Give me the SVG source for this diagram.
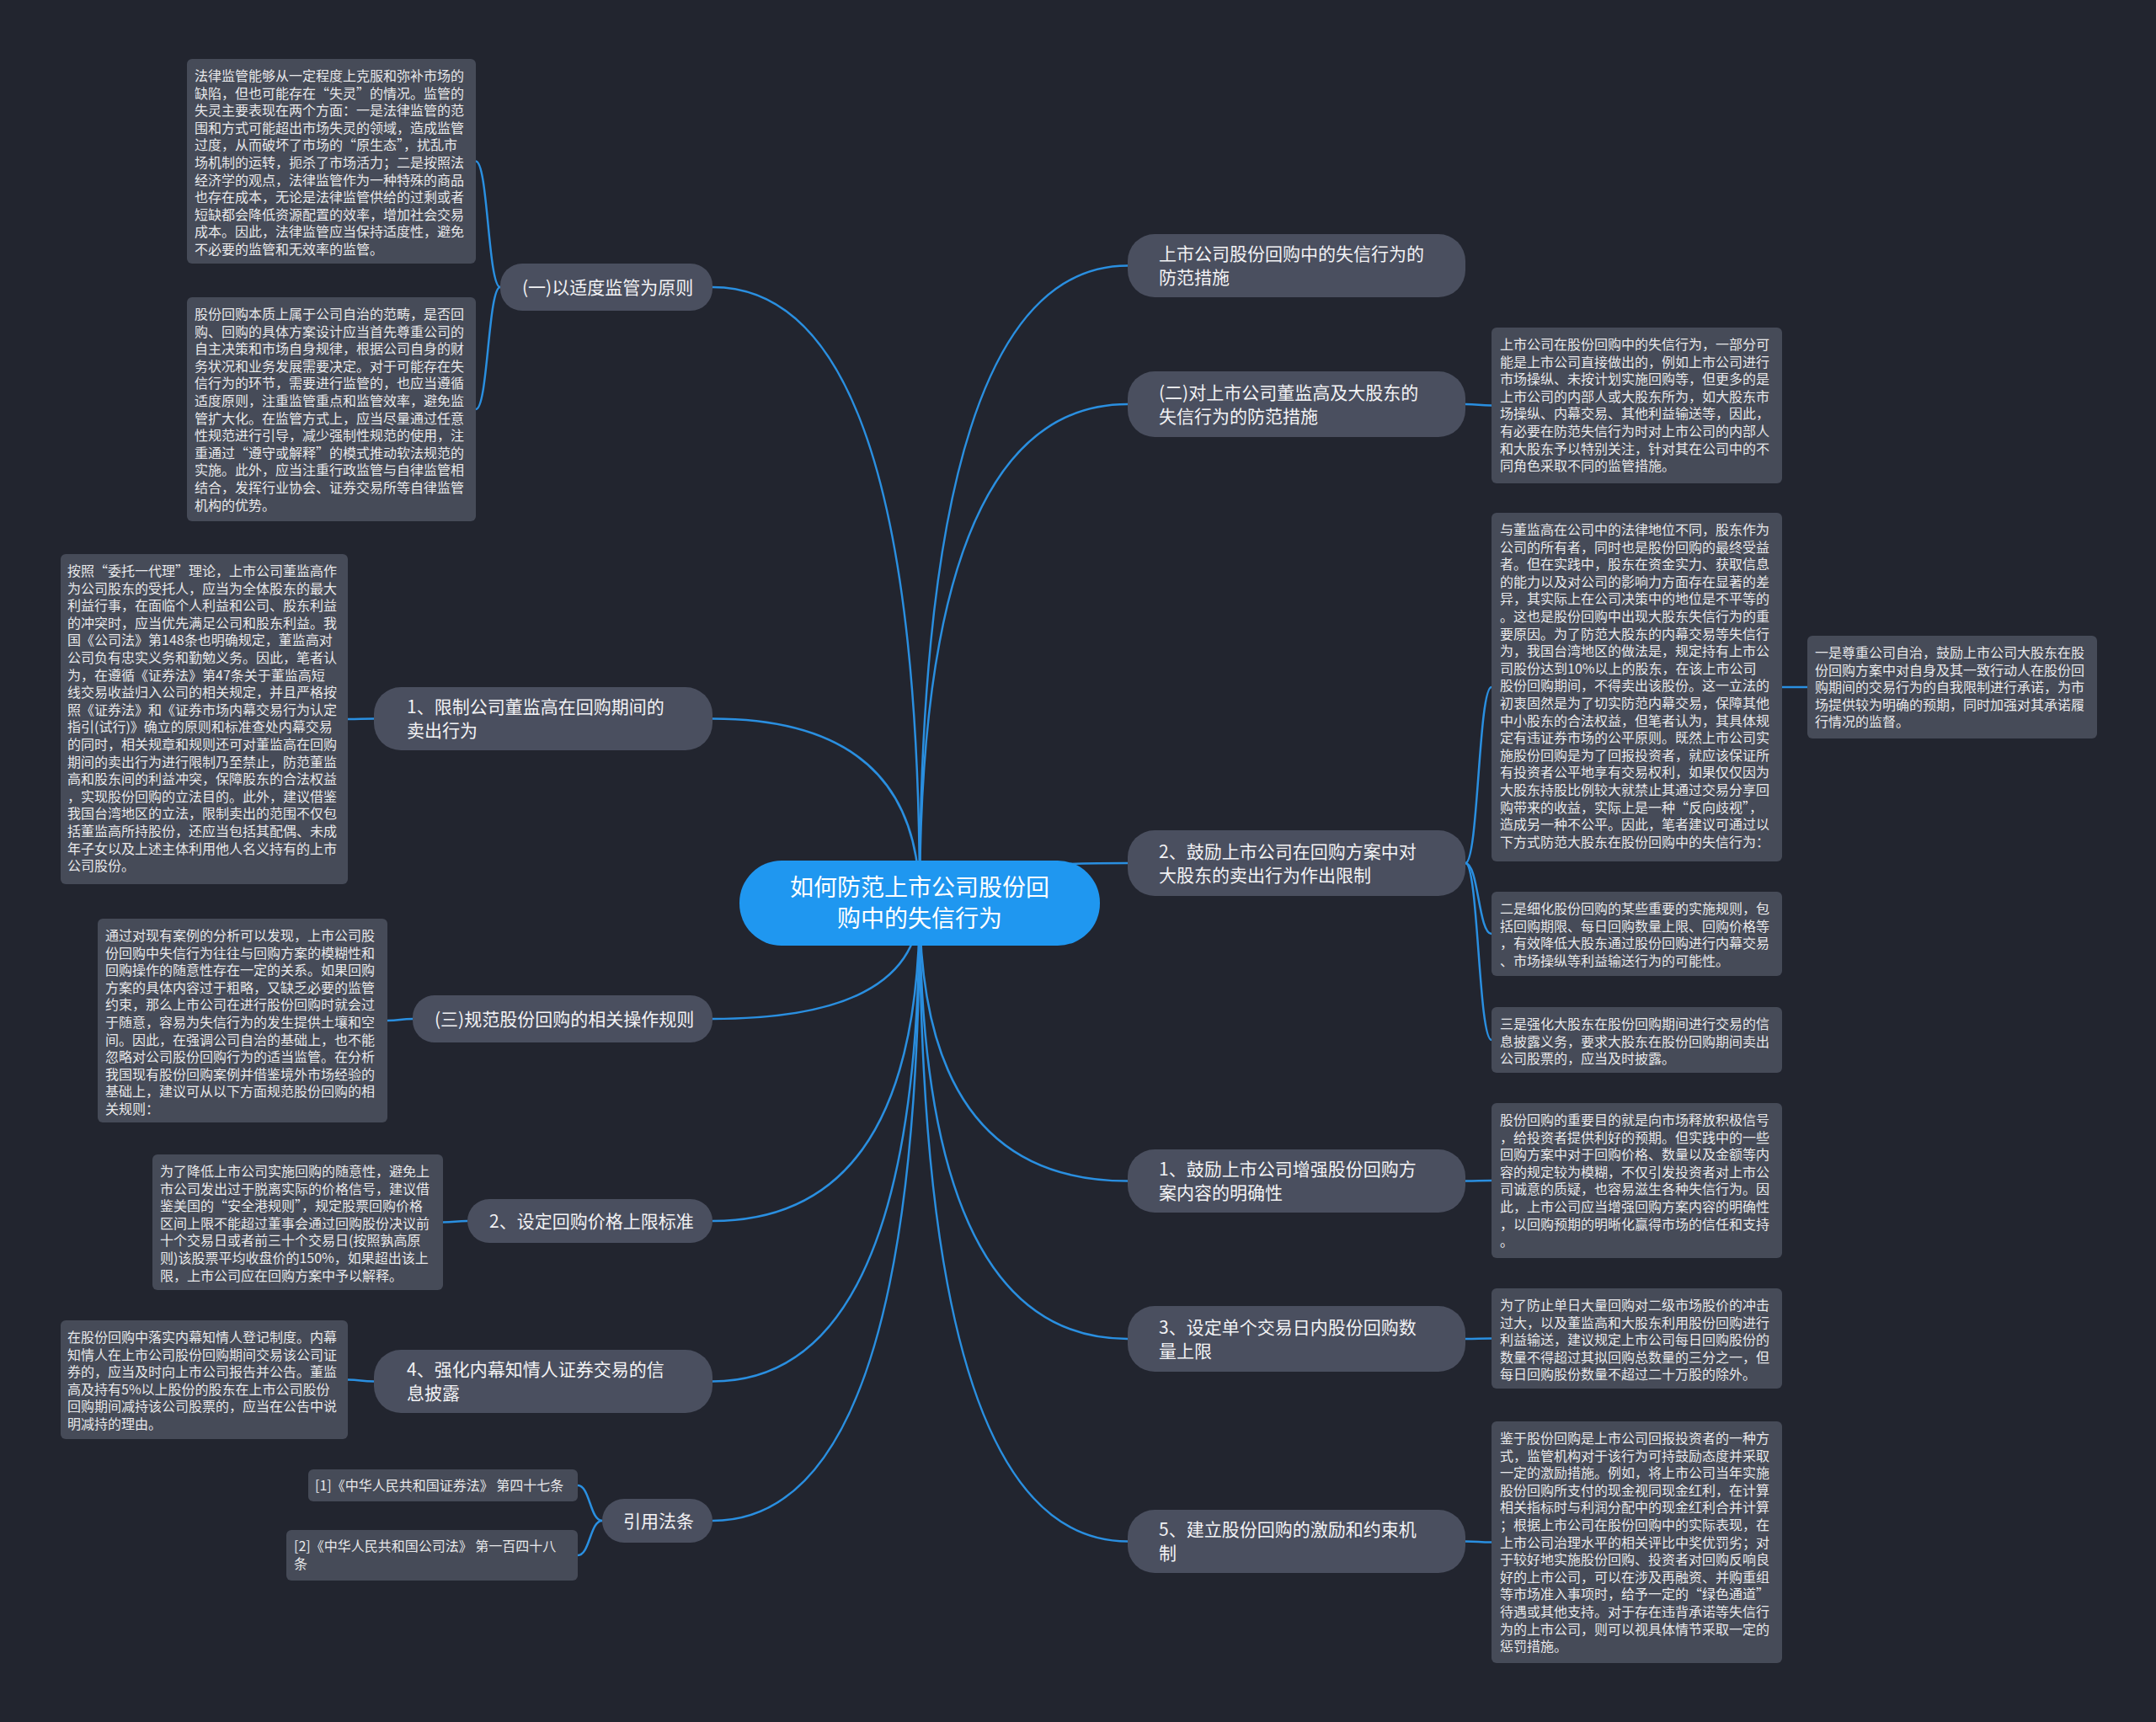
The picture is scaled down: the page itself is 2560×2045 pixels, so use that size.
<svg xmlns="http://www.w3.org/2000/svg" width="2560" height="2045" viewBox="0 0 2560 2045">
<style>
.bg{fill:#22252f}
.leaf{fill:#464b58}
.node{fill:#4a4f5f}
.center{fill:#1f97f0}
.lt{font-family:"Noto Sans CJK SC","Noto Sans",sans-serif;font-size:16px;fill:#e8e8ea}
.nt{font-family:"Noto Sans CJK SC","Noto Sans",sans-serif;font-size:21px;fill:#f2f2f4}
.ct{font-family:"Noto Sans CJK SC","Noto Sans",sans-serif;font-size:28px;fill:#ffffff;text-anchor:middle}
.conn{fill:none;stroke:#2a8fe0;stroke-width:2.5}
</style>
<rect class="bg" x="0" y="0" width="2560" height="2045"/>
<g id="connectors">
<path class="conn" d="M1092 1072 Q1092 315.5 1339 315.5"/>
<path class="conn" d="M1092 1072 Q1092 480 1339 480"/>
<path class="conn" d="M1092 1072 Q1092 1025 1339 1025"/>
<path class="conn" d="M1092 1072 Q1092 1402.5 1339 1402.5"/>
<path class="conn" d="M1092 1072 Q1092 1590 1339 1590"/>
<path class="conn" d="M1092 1072 Q1092 1830.5 1339 1830.5"/>
<path class="conn" d="M1092 1072 Q1092 341 846 341"/>
<path class="conn" d="M1092 1072 Q1092 853.5 846 853.5"/>
<path class="conn" d="M1092 1072 Q1092 1210 846 1210"/>
<path class="conn" d="M1092 1072 Q1092 1450 846 1450"/>
<path class="conn" d="M1092 1072 Q1092 1640.5 846 1640.5"/>
<path class="conn" d="M1092 1072 Q1092 1806 846 1806"/>
<path class="conn" d="M594 341 C579.5 341 579.5 191.5 565 191.5"/>
<path class="conn" d="M594 341 C579.5 341 579.5 486 565 486"/>
<path class="conn" d="M444 853.5 C428.5 853.5 428.5 854 413 854"/>
<path class="conn" d="M490 1210 C475 1210 475 1212 460 1212"/>
<path class="conn" d="M555 1450 C540.5 1450 540.5 1451.5 526 1451.5"/>
<path class="conn" d="M444 1640.5 C428 1640.5 428 1638.5 413 1638.5"/>
<path class="conn" d="M715 1806 C700.5 1806 700.5 1764 686 1764"/>
<path class="conn" d="M715 1806 C700.5 1806 700.5 1847 686 1847"/>
<path class="conn" d="M1740 480 C1755.5 480 1755.5 481.5 1771 481.5"/>
<path class="conn" d="M1740 1025 C1755.5 1025 1755.5 816 1771 816"/>
<path class="conn" d="M1740 1025 C1755.5 1025 1755.5 1109 1771 1109"/>
<path class="conn" d="M1740 1025 C1755.5 1025 1755.5 1235 1771 1235"/>
<path class="conn" d="M1740 1402.5 C1755.5 1402.5 1755.5 1402 1771 1402"/>
<path class="conn" d="M1740 1590 C1755.5 1590 1755.5 1589.5 1771 1589.5"/>
<path class="conn" d="M1740 1830.5 C1755.5 1830.5 1755.5 1831.5 1771 1831.5"/>
<path class="conn" d="M2116 816 L2146 816"/>
</g>
<g id="center">
<rect class="center" x="878" y="1022" width="428" height="101" rx="50"/>
<text class="ct"><tspan x="1092" y="1064">如何防范上市公司股份回</tspan><tspan x="1092" dy="37">购中的失信行为</tspan></text>
</g>
<g id="n-r1"><rect class="node" x="1339" y="278" width="401" height="75" rx="32"/>
<text class="nt"><tspan x="1376" y="309">上市公司股份回购中的失信行为的</tspan><tspan x="1376" dy="28">防范措施</tspan></text></g>
<g id="n-r2"><rect class="node" x="1339" y="441" width="401" height="78" rx="32"/>
<text class="nt"><tspan x="1376" y="473.5">(二)对上市公司董监高及大股东的</tspan><tspan x="1376" dy="28">失信行为的防范措施</tspan></text></g>
<g id="n-r3"><rect class="node" x="1339" y="986" width="401" height="78" rx="32"/>
<text class="nt"><tspan x="1376" y="1018.5">2、鼓励上市公司在回购方案中对</tspan><tspan x="1376" dy="28">大股东的卖出行为作出限制</tspan></text></g>
<g id="n-r4"><rect class="node" x="1339" y="1365" width="401" height="75" rx="32"/>
<text class="nt"><tspan x="1376" y="1396">1、鼓励上市公司增强股份回购方</tspan><tspan x="1376" dy="28">案内容的明确性</tspan></text></g>
<g id="n-r5"><rect class="node" x="1339" y="1551" width="401" height="78" rx="32"/>
<text class="nt"><tspan x="1376" y="1583.5">3、设定单个交易日内股份回购数</tspan><tspan x="1376" dy="28">量上限</tspan></text></g>
<g id="n-r6"><rect class="node" x="1339" y="1793" width="401" height="75" rx="32"/>
<text class="nt"><tspan x="1376" y="1824">5、建立股份回购的激励和约束机</tspan><tspan x="1376" dy="28">制</tspan></text></g>
<g id="n-l1"><rect class="node" x="594" y="313" width="252" height="56" rx="26"/>
<text class="nt" x="620" y="348.5">(一)以适度监管为原则</text></g>
<g id="n-l2"><rect class="node" x="444" y="816" width="402" height="75" rx="32"/>
<text class="nt"><tspan x="483" y="847">1、限制公司董监高在回购期间的</tspan><tspan x="483" dy="28">卖出行为</tspan></text></g>
<g id="n-l3"><rect class="node" x="490" y="1182" width="356" height="56" rx="26"/>
<text class="nt" x="516" y="1217.5">(三)规范股份回购的相关操作规则</text></g>
<g id="n-l4"><rect class="node" x="555" y="1424" width="291" height="52" rx="26"/>
<text class="nt" x="581" y="1457.5">2、设定回购价格上限标准</text></g>
<g id="n-l5"><rect class="node" x="444" y="1603" width="402" height="75" rx="32"/>
<text class="nt"><tspan x="483" y="1634">4、强化内幕知情人证券交易的信</tspan><tspan x="483" dy="28">息披露</tspan></text></g>
<g id="n-l6"><rect class="node" x="715" y="1780" width="131" height="52" rx="26"/>
<text class="nt" x="740" y="1813.5">引用法条</text></g>
<g id="leaf-l1"><rect class="leaf" x="222" y="70" width="343" height="243" rx="6"/>
<text class="lt"><tspan x="231" y="96">法律监管能够从一定程度上克服和弥补市场的</tspan><tspan x="231" dy="20.6">缺陷，但也可能存在“失灵”的情况。监管的</tspan><tspan x="231" dy="20.6">失灵主要表现在两个方面：一是法律监管的范</tspan><tspan x="231" dy="20.6">围和方式可能超出市场失灵的领域，造成监管</tspan><tspan x="231" dy="20.6">过度，从而破坏了市场的“原生态”，扰乱市</tspan><tspan x="231" dy="20.6">场机制的运转，扼杀了市场活力；二是按照法</tspan><tspan x="231" dy="20.6">经济学的观点，法律监管作为一种特殊的商品</tspan><tspan x="231" dy="20.6">也存在成本，无论是法律监管供给的过剩或者</tspan><tspan x="231" dy="20.6">短缺都会降低资源配置的效率，增加社会交易</tspan><tspan x="231" dy="20.6">成本。因此，法律监管应当保持适度性，避免</tspan><tspan x="231" dy="20.6">不必要的监管和无效率的监管。</tspan></text></g>
<g id="leaf-l2"><rect class="leaf" x="222" y="353" width="343" height="266" rx="6"/>
<text class="lt"><tspan x="231" y="379">股份回购本质上属于公司自治的范畴，是否回</tspan><tspan x="231" dy="20.6">购、回购的具体方案设计应当首先尊重公司的</tspan><tspan x="231" dy="20.6">自主决策和市场自身规律，根据公司自身的财</tspan><tspan x="231" dy="20.6">务状况和业务发展需要决定。对于可能存在失</tspan><tspan x="231" dy="20.6">信行为的环节，需要进行监管的，也应当遵循</tspan><tspan x="231" dy="20.6">适度原则，注重监管重点和监管效率，避免监</tspan><tspan x="231" dy="20.6">管扩大化。在监管方式上，应当尽量通过任意</tspan><tspan x="231" dy="20.6">性规范进行引导，减少强制性规范的使用，注</tspan><tspan x="231" dy="20.6">重通过“遵守或解释”的模式推动软法规范的</tspan><tspan x="231" dy="20.6">实施。此外，应当注重行政监管与自律监管相</tspan><tspan x="231" dy="20.6">结合，发挥行业协会、证券交易所等自律监管</tspan><tspan x="231" dy="20.6">机构的优势。</tspan></text></g>
<g id="leaf-l3"><rect class="leaf" x="72" y="658" width="341" height="392" rx="6"/>
<text class="lt"><tspan x="80" y="684">按照“委托一代理”理论，上市公司董监高作</tspan><tspan x="80" dy="20.6">为公司股东的受托人，应当为全体股东的最大</tspan><tspan x="80" dy="20.6">利益行事，在面临个人利益和公司、股东利益</tspan><tspan x="80" dy="20.6">的冲突时，应当优先满足公司和股东利益。我</tspan><tspan x="80" dy="20.6">国《公司法》第148条也明确规定，董监高对</tspan><tspan x="80" dy="20.6">公司负有忠实义务和勤勉义务。因此，笔者认</tspan><tspan x="80" dy="20.6">为，在遵循《证券法》第47条关于董监高短</tspan><tspan x="80" dy="20.6">线交易收益归入公司的相关规定，并且严格按</tspan><tspan x="80" dy="20.6">照《证券法》和《证券市场内幕交易行为认定</tspan><tspan x="80" dy="20.6">指引(试行)》确立的原则和标准查处内幕交易</tspan><tspan x="80" dy="20.6">的同时，相关规章和规则还可对董监高在回购</tspan><tspan x="80" dy="20.6">期间的卖出行为进行限制乃至禁止，防范董监</tspan><tspan x="80" dy="20.6">高和股东间的利益冲突，保障股东的合法权益</tspan><tspan x="80" dy="20.6">，实现股份回购的立法目的。此外，建议借鉴</tspan><tspan x="80" dy="20.6">我国台湾地区的立法，限制卖出的范围不仅包</tspan><tspan x="80" dy="20.6">括董监高所持股份，还应当包括其配偶、未成</tspan><tspan x="80" dy="20.6">年子女以及上述主体利用他人名义持有的上市</tspan><tspan x="80" dy="20.6">公司股份。</tspan></text></g>
<g id="leaf-l4"><rect class="leaf" x="116" y="1091" width="344" height="242" rx="6"/>
<text class="lt"><tspan x="125" y="1117">通过对现有案例的分析可以发现，上市公司股</tspan><tspan x="125" dy="20.6">份回购中失信行为往往与回购方案的模糊性和</tspan><tspan x="125" dy="20.6">回购操作的随意性存在一定的关系。如果回购</tspan><tspan x="125" dy="20.6">方案的具体内容过于粗略，又缺乏必要的监管</tspan><tspan x="125" dy="20.6">约束，那么上市公司在进行股份回购时就会过</tspan><tspan x="125" dy="20.6">于随意，容易为失信行为的发生提供土壤和空</tspan><tspan x="125" dy="20.6">间。因此，在强调公司自治的基础上，也不能</tspan><tspan x="125" dy="20.6">忽略对公司股份回购行为的适当监管。在分析</tspan><tspan x="125" dy="20.6">我国现有股份回购案例并借鉴境外市场经验的</tspan><tspan x="125" dy="20.6">基础上，建议可从以下方面规范股份回购的相</tspan><tspan x="125" dy="20.6">关规则：</tspan></text></g>
<g id="leaf-l5"><rect class="leaf" x="181" y="1371" width="345" height="161" rx="6"/>
<text class="lt"><tspan x="190" y="1397">为了降低上市公司实施回购的随意性，避免上</tspan><tspan x="190" dy="20.6">市公司发出过于脱离实际的价格信号，建议借</tspan><tspan x="190" dy="20.6">鉴美国的“安全港规则”，规定股票回购价格</tspan><tspan x="190" dy="20.6">区间上限不能超过董事会通过回购股份决议前</tspan><tspan x="190" dy="20.6">十个交易日或者前三十个交易日(按照孰高原</tspan><tspan x="190" dy="20.6">则)该股票平均收盘价的150%，如果超出该上</tspan><tspan x="190" dy="20.6">限，上市公司应在回购方案中予以解释。</tspan></text></g>
<g id="leaf-l6"><rect class="leaf" x="72" y="1568" width="341" height="141" rx="6"/>
<text class="lt"><tspan x="80" y="1594">在股份回购中落实内幕知情人登记制度。内幕</tspan><tspan x="80" dy="20.6">知情人在上市公司股份回购期间交易该公司证</tspan><tspan x="80" dy="20.6">券的，应当及时向上市公司报告并公告。董监</tspan><tspan x="80" dy="20.6">高及持有5%以上股份的股东在上市公司股份</tspan><tspan x="80" dy="20.6">回购期间减持该公司股票的，应当在公告中说</tspan><tspan x="80" dy="20.6">明减持的理由。</tspan></text></g>
<g id="leaf-ref1"><rect class="leaf" x="366" y="1745" width="320" height="38" rx="6"/>
<text class="lt" x="374" y="1770">[1]《中华人民共和国证券法》 第四十七条</text></g>
<g id="leaf-ref2"><rect class="leaf" x="340" y="1817" width="346" height="60" rx="6"/>
<text class="lt"><tspan x="349" y="1842">[2]《中华人民共和国公司法》 第一百四十八</tspan><tspan x="349" dy="20.6">条</tspan></text></g>
<g id="leaf-ra"><rect class="leaf" x="1771" y="389" width="345" height="185" rx="6"/>
<text class="lt"><tspan x="1781" y="415">上市公司在股份回购中的失信行为，一部分可</tspan><tspan x="1781" dy="20.6">能是上市公司直接做出的，例如上市公司进行</tspan><tspan x="1781" dy="20.6">市场操纵、未按计划实施回购等，但更多的是</tspan><tspan x="1781" dy="20.6">上市公司的内部人或大股东所为，如大股东市</tspan><tspan x="1781" dy="20.6">场操纵、内幕交易、其他利益输送等，因此，</tspan><tspan x="1781" dy="20.6">有必要在防范失信行为时对上市公司的内部人</tspan><tspan x="1781" dy="20.6">和大股东予以特别关注，针对其在公司中的不</tspan><tspan x="1781" dy="20.6">同角色采取不同的监管措施。</tspan></text></g>
<g id="leaf-rb"><rect class="leaf" x="1771" y="609" width="345" height="414" rx="6"/>
<text class="lt"><tspan x="1781" y="635">与董监高在公司中的法律地位不同，股东作为</tspan><tspan x="1781" dy="20.6">公司的所有者，同时也是股份回购的最终受益</tspan><tspan x="1781" dy="20.6">者。但在实践中，股东在资金实力、获取信息</tspan><tspan x="1781" dy="20.6">的能力以及对公司的影响力方面存在显著的差</tspan><tspan x="1781" dy="20.6">异，其实际上在公司决策中的地位是不平等的</tspan><tspan x="1781" dy="20.6">。这也是股份回购中出现大股东失信行为的重</tspan><tspan x="1781" dy="20.6">要原因。为了防范大股东的内幕交易等失信行</tspan><tspan x="1781" dy="20.6">为，我国台湾地区的做法是，规定持有上市公</tspan><tspan x="1781" dy="20.6">司股份达到10%以上的股东，在该上市公司</tspan><tspan x="1781" dy="20.6">股份回购期间，不得卖出该股份。这一立法的</tspan><tspan x="1781" dy="20.6">初衷固然是为了切实防范内幕交易，保障其他</tspan><tspan x="1781" dy="20.6">中小股东的合法权益，但笔者认为，其具体规</tspan><tspan x="1781" dy="20.6">定有违证券市场的公平原则。既然上市公司实</tspan><tspan x="1781" dy="20.6">施股份回购是为了回报投资者，就应该保证所</tspan><tspan x="1781" dy="20.6">有投资者公平地享有交易权利，如果仅仅因为</tspan><tspan x="1781" dy="20.6">大股东持股比例较大就禁止其通过交易分享回</tspan><tspan x="1781" dy="20.6">购带来的收益，实际上是一种“反向歧视”，</tspan><tspan x="1781" dy="20.6">造成另一种不公平。因此，笔者建议可通过以</tspan><tspan x="1781" dy="20.6">下方式防范大股东在股份回购中的失信行为：</tspan></text></g>
<g id="leaf-rc"><rect class="leaf" x="2146" y="755" width="344" height="122" rx="6"/>
<text class="lt"><tspan x="2155" y="781">一是尊重公司自治，鼓励上市公司大股东在股</tspan><tspan x="2155" dy="20.6">份回购方案中对自身及其一致行动人在股份回</tspan><tspan x="2155" dy="20.6">购期间的交易行为的自我限制进行承诺，为市</tspan><tspan x="2155" dy="20.6">场提供较为明确的预期，同时加强对其承诺履</tspan><tspan x="2155" dy="20.6">行情况的监督。</tspan></text></g>
<g id="leaf-rd"><rect class="leaf" x="1771" y="1059" width="345" height="100" rx="6"/>
<text class="lt"><tspan x="1781" y="1085">二是细化股份回购的某些重要的实施规则，包</tspan><tspan x="1781" dy="20.6">括回购期限、每日回购数量上限、回购价格等</tspan><tspan x="1781" dy="20.6">，有效降低大股东通过股份回购进行内幕交易</tspan><tspan x="1781" dy="20.6">、市场操纵等利益输送行为的可能性。</tspan></text></g>
<g id="leaf-re"><rect class="leaf" x="1771" y="1196" width="345" height="78" rx="6"/>
<text class="lt"><tspan x="1781" y="1222">三是强化大股东在股份回购期间进行交易的信</tspan><tspan x="1781" dy="20.6">息披露义务，要求大股东在股份回购期间卖出</tspan><tspan x="1781" dy="20.6">公司股票的，应当及时披露。</tspan></text></g>
<g id="leaf-rf"><rect class="leaf" x="1771" y="1310" width="345" height="184" rx="6"/>
<text class="lt"><tspan x="1781" y="1336">股份回购的重要目的就是向市场释放积极信号</tspan><tspan x="1781" dy="20.6">，给投资者提供利好的预期。但实践中的一些</tspan><tspan x="1781" dy="20.6">回购方案中对于回购价格、数量以及金额等内</tspan><tspan x="1781" dy="20.6">容的规定较为模糊，不仅引发投资者对上市公</tspan><tspan x="1781" dy="20.6">司诚意的质疑，也容易滋生各种失信行为。因</tspan><tspan x="1781" dy="20.6">此，上市公司应当增强回购方案内容的明确性</tspan><tspan x="1781" dy="20.6">，以回购预期的明晰化赢得市场的信任和支持</tspan><tspan x="1781" dy="20.6">。</tspan></text></g>
<g id="leaf-rg"><rect class="leaf" x="1771" y="1530" width="345" height="119" rx="6"/>
<text class="lt"><tspan x="1781" y="1556">为了防止单日大量回购对二级市场股价的冲击</tspan><tspan x="1781" dy="20.6">过大，以及董监高和大股东利用股份回购进行</tspan><tspan x="1781" dy="20.6">利益输送，建议规定上市公司每日回购股份的</tspan><tspan x="1781" dy="20.6">数量不得超过其拟回购总数量的三分之一，但</tspan><tspan x="1781" dy="20.6">每日回购股份数量不超过二十万股的除外。</tspan></text></g>
<g id="leaf-rh"><rect class="leaf" x="1771" y="1688" width="345" height="287" rx="6"/>
<text class="lt"><tspan x="1781" y="1714">鉴于股份回购是上市公司回报投资者的一种方</tspan><tspan x="1781" dy="20.6">式，监管机构对于该行为可持鼓励态度并采取</tspan><tspan x="1781" dy="20.6">一定的激励措施。例如，将上市公司当年实施</tspan><tspan x="1781" dy="20.6">股份回购所支付的现金视同现金红利，在计算</tspan><tspan x="1781" dy="20.6">相关指标时与利润分配中的现金红利合并计算</tspan><tspan x="1781" dy="20.6">；根据上市公司在股份回购中的实际表现，在</tspan><tspan x="1781" dy="20.6">上市公司治理水平的相关评比中奖优罚劣；对</tspan><tspan x="1781" dy="20.6">于较好地实施股份回购、投资者对回购反响良</tspan><tspan x="1781" dy="20.6">好的上市公司，可以在涉及再融资、并购重组</tspan><tspan x="1781" dy="20.6">等市场准入事项时，给予一定的“绿色通道”</tspan><tspan x="1781" dy="20.6">待遇或其他支持。对于存在违背承诺等失信行</tspan><tspan x="1781" dy="20.6">为的上市公司，则可以视具体情节采取一定的</tspan><tspan x="1781" dy="20.6">惩罚措施。</tspan></text></g>
</svg>
